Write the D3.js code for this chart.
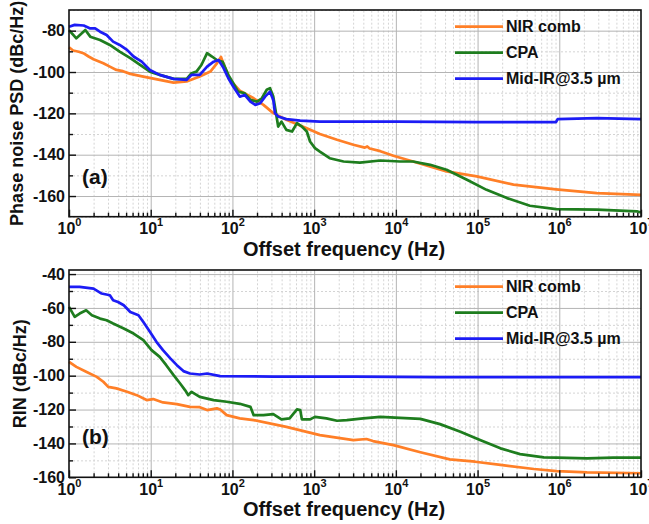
<!DOCTYPE html>
<html>
<head>
<style>
body { margin: 0; background: white; }
svg { display: block; font-family: "Liberation Sans", Arial, sans-serif; font-weight: bold; }
.grid-major line { stroke: #b4b4b4; stroke-width: 1; }
.grid-minor line { stroke: #d4d4d4; stroke-width: 1; stroke-dasharray: 2,2; }
.grid-major path, .grid-minor path { display: none; }
.line { fill: none; stroke-width: 2.7px; stroke-linejoin: round; }
</style>
<script src="https://d3js.org/d3.v7.min.js"></script>
</head>
<body>
<svg width="649" height="524"></svg>
<script>
// x values are log10 of offset frequency (Hz), y values in dBc/Hz
const pnNir = [[0,-88],[0.05,-89.6],[0.12,-90.2],[0.175,-90.9],[0.24,-92.5],[0.3,-93.8],[0.42,-95.8],[0.5,-97.4],[0.58,-99],[0.66,-99.6],[0.75,-100.9],[0.91,-102.2],[1.11,-103.8],[1.28,-105.1],[1.44,-104.6],[1.6,-102.2],[1.73,-99.8],[1.81,-95.8],[1.86,-92.7],[1.91,-98],[1.97,-103.8],[2.09,-109],[2.26,-112.7],[2.38,-115.9],[2.5,-119.9],[2.66,-123.1],[2.91,-127.2],[3.07,-130],[3.28,-132.8],[3.48,-135.2],[3.62,-136.6],[3.65,-136],[3.68,-137],[3.81,-138.3],[3.97,-140.5],[4.21,-143.3],[4.62,-148.1],[4.99,-150.5],[5.44,-154.5],[5.96,-156.8],[6.46,-158.6],[7,-159.4]];
const pnCpa = [[0,-79.7],[0.09,-83.7],[0.2,-79.7],[0.26,-82.9],[0.38,-84.5],[0.5,-86.9],[0.62,-90.1],[0.75,-93.3],[0.87,-96.6],[0.99,-99.8],[1.11,-101.4],[1.28,-103.3],[1.44,-103.3],[1.5,-100.6],[1.56,-99.8],[1.62,-96.6],[1.69,-90.9],[1.75,-92.5],[1.81,-94.2],[1.88,-95],[1.95,-101.4],[2.01,-105.4],[2.07,-109.5],[2.15,-110.3],[2.22,-113.5],[2.3,-114.3],[2.36,-112.7],[2.42,-108.6],[2.46,-107.8],[2.5,-111.9],[2.54,-121.5],[2.56,-126.4],[2.6,-124],[2.66,-128],[2.73,-128.8],[2.79,-124.7],[2.85,-126.4],[2.91,-128.8],[2.95,-133.6],[3.01,-136.8],[3.07,-138.5],[3.19,-141.7],[3.36,-143.3],[3.56,-143.8],[3.81,-142.8],[4.05,-143.3],[4.21,-143.3],[4.42,-144.9],[4.62,-147.3],[4.87,-152.1],[5.11,-157],[5.36,-161],[5.64,-164.7],[5.96,-166.3],[6.46,-166.6],[6.95,-167.4],[7,-168]];
const pnMir = [[0,-78.1],[0.07,-77.2],[0.18,-77.5],[0.26,-78.9],[0.32,-78.9],[0.38,-80.5],[0.46,-82.1],[0.54,-85.3],[0.62,-86.9],[0.71,-89.3],[0.79,-92.5],[0.89,-95],[0.99,-99],[1.11,-101.4],[1.28,-103.3],[1.44,-103.8],[1.5,-101.4],[1.6,-101.4],[1.69,-97.4],[1.77,-95],[1.83,-94.2],[1.89,-98],[1.95,-103],[2.01,-107],[2.09,-111.9],[2.15,-111.1],[2.22,-114.3],[2.28,-115.9],[2.34,-115.1],[2.4,-111.9],[2.46,-109.5],[2.5,-113.5],[2.52,-119.9],[2.56,-121.5],[2.66,-122.8],[2.83,-123.5],[3.07,-124],[4,-124],[5,-124.2],[5.96,-124.2],[5.98,-122.8],[6.46,-122.3],[7,-122.8]];

const rinNir = [[0,-91.8],[0.09,-94.8],[0.21,-97.7],[0.34,-100.7],[0.42,-103.6],[0.48,-106.6],[0.58,-107.5],[0.71,-109.5],[0.83,-111.5],[0.95,-114.4],[1.03,-113.8],[1.15,-115.8],[1.32,-116.8],[1.48,-118.4],[1.6,-118.6],[1.69,-120.3],[1.81,-119.3],[1.85,-120],[1.93,-123.3],[2.09,-125.2],[2.26,-126.2],[2.66,-130.2],[3.07,-135.1],[3.48,-138],[3.64,-137.4],[3.72,-138.6],[3.97,-141],[4.3,-145.2],[4.66,-149.4],[4.97,-150.8],[5.28,-152.7],[5.69,-155.1],[5.97,-156.3],[6.34,-157.1],[7,-157.6]];
const rinCpa = [[0,-59.4],[0.07,-65.3],[0.13,-63.3],[0.21,-61.4],[0.28,-64.3],[0.38,-66.3],[0.46,-67.3],[0.54,-69.2],[0.67,-72.1],[0.79,-75.1],[0.91,-79],[1.01,-84.9],[1.11,-88.9],[1.19,-93.8],[1.28,-99.7],[1.36,-104.6],[1.42,-108.5],[1.46,-111.5],[1.5,-109.5],[1.6,-112.5],[1.77,-114.4],[1.93,-115.4],[2.09,-116.6],[2.22,-118.4],[2.26,-123.3],[2.38,-123.3],[2.5,-122.7],[2.6,-125.8],[2.7,-125.2],[2.79,-119.9],[2.83,-120.3],[2.85,-125.8],[2.95,-125.8],[3.01,-124.3],[3.15,-125.2],[3.28,-126.6],[3.4,-126.2],[3.6,-125.2],[3.81,-124.3],[4.05,-124.9],[4.3,-125.5],[4.54,-128.6],[4.79,-133.1],[5.03,-138],[5.28,-142.9],[5.52,-146.3],[5.81,-148.2],[5.97,-148.4],[6.34,-148.8],[6.66,-148.4],[7,-148.4]];
const rinMir = [[0,-47.6],[0.13,-47.6],[0.3,-48.6],[0.4,-51.5],[0.5,-52.5],[0.54,-55.4],[0.6,-56.5],[0.67,-58.4],[0.75,-62.4],[0.85,-64.3],[0.91,-68.3],[0.99,-74.1],[1.07,-80],[1.15,-84.9],[1.24,-89.8],[1.32,-93.8],[1.4,-97.3],[1.48,-98.7],[1.6,-99.3],[1.69,-98.7],[1.85,-100.3],[2.5,-100.5],[3.5,-100.6],[4.5,-100.8],[5.5,-100.9],[7,-100.9]];

const seriesNames = ['NIR comb', 'CPA', 'Mid-IR@3.5 \u00b5m'];
const seriesColors = ['#ff7f27', '#1e7d1e', '#1c1cf5'];
const decades = [0, 1, 2, 3, 4, 5, 6, 7];

const pnTicks = [-160, -140, -120, -100, -80];
const pnMinor = [-170, -150, -130, -110, -90, -70];
const rinTicks = [-160, -140, -120, -100, -80, -60, -40];
const rinMinor = [-150, -130, -110, -90, -70, -50];

const svg = d3.select('svg');
const left = 69, right = 641;

const majorX = decades.map(e => Math.pow(10, e));
const minorX = [];
decades.slice(0, 7).forEach(e => { for (let k = 2; k <= 9; k++) minorX.push(k * Math.pow(10, e)); });

function panel(cfg) {
  const x = d3.scaleLog().domain([1, 1e7]).range([left, right]);
  const y = d3.scaleLinear().domain(cfg.yDomain).range([cfg.bottom, cfg.top]);
  const h = cfg.bottom - cfg.top;
  const g = svg.append('g');

  // grid
  g.append('g').attr('class', 'grid-minor')
    .attr('transform', `translate(0,${cfg.bottom})`)
    .call(d3.axisBottom(x).tickValues(minorX).tickSize(-h).tickFormat(''));
  g.append('g').attr('class', 'grid-minor')
    .attr('transform', `translate(${left},0)`)
    .call(d3.axisLeft(y).tickValues(cfg.yMinor).tickSize(-(right - left)).tickFormat(''));
  g.append('g').attr('class', 'grid-major')
    .attr('transform', `translate(0,${cfg.bottom})`)
    .call(d3.axisBottom(x).tickValues(majorX.slice(1, 7)).tickSize(-h).tickFormat(''));
  g.append('g').attr('class', 'grid-major')
    .attr('transform', `translate(${left},0)`)
    .call(d3.axisLeft(y).tickValues(cfg.yTicks.filter(v => v !== cfg.yDomain[0])).tickSize(-(right - left)).tickFormat(''));

  // lines
  const line = d3.line().x(d => x(Math.pow(10, d[0]))).y(d => y(d[1]));
  cfg.series.forEach((s, i) => {
    g.append('path').datum(s).attr('class', 'line')
      .attr('stroke', seriesColors[i]).attr('d', line);
  });

  // frame
  g.append('rect').attr('x', left).attr('y', cfg.top)
    .attr('width', right - left).attr('height', h)
    .attr('fill', 'none').attr('stroke', '#111').attr('stroke-width', 1.6);

  // x axis: ticks pointing inward
  g.append('g').attr('transform', `translate(0,${cfg.bottom})`)
    .call(d3.axisBottom(x).tickValues(minorX).tickSizeInner(-4).tickSizeOuter(0).tickFormat(''));
  const xm = g.append('g').attr('transform', `translate(0,${cfg.bottom})`)
    .call(d3.axisBottom(x).tickValues(majorX).tickSizeInner(-7).tickSizeOuter(0).tickPadding(6));
  g.selectAll('.domain').remove();
  g.selectAll('.tick line').attr('stroke', '#111').attr('stroke-width', 1.4);
  xm.selectAll('text').each(function(d) {
    const t = d3.select(this).text('')
      .attr('font-size', 16).attr('font-weight', 'bold').attr('fill', '#111')
      .attr('font-family', '"Liberation Sans", Arial, sans-serif');
    t.append('tspan').text('10');
    t.append('tspan').text(Math.round(Math.log10(d))).attr('font-size', 11).attr('dy', '-0.7em');
  });

  // y axis
  const ya = g.append('g').attr('transform', `translate(${left},0)`)
    .call(d3.axisLeft(y).tickValues(cfg.yTicks).tickSizeInner(-7).tickSizeOuter(0).tickPadding(4)
      .tickFormat(d => d));
  g.append('g').attr('transform', `translate(${left},0)`)
    .call(d3.axisLeft(y).tickValues(cfg.yMinor.filter(v => v > cfg.yDomain[0] && v < cfg.yDomain[1])).tickSizeInner(-4).tickSizeOuter(0).tickFormat(''));
  g.selectAll('.domain').remove();
  g.selectAll('.tick line').attr('stroke', '#111').attr('stroke-width', 1.4);
  ya.selectAll('text').attr('font-size', 16).attr('font-weight', 'bold').attr('fill', '#111')
    .attr('font-family', '"Liberation Sans", Arial, sans-serif').attr('x', -4);

  // titles
  g.append('text').attr('x', 344).attr('y', cfg.bottom + 39)
    .attr('text-anchor', 'middle').attr('font-size', 20).attr('fill', '#111')
    .text('Offset frequency (Hz)');
  g.append('text')
    .attr('transform', `translate(${cfg.titleX},${(cfg.top + cfg.bottom) / 2}) rotate(-90)`)
    .attr('text-anchor', 'middle').attr('font-size', 18).attr('fill', '#111')
    .text(cfg.yTitle);
  g.append('text').attr('x', 82).attr('y', cfg.tagY)
    .attr('font-size', 21).attr('fill', '#111').text(cfg.tag);

  // legend
  seriesNames.forEach((n, i) => {
    const ly = cfg.legendY + i * 26;
    g.append('line').attr('x1', 455).attr('x2', 503).attr('y1', ly).attr('y2', ly)
      .attr('stroke', seriesColors[i]).attr('stroke-width', 2.7);
    g.append('text').attr('x', 506).attr('y', ly).attr('dy', '0.35em')
      .attr('font-size', 16).attr('fill', '#111').text(n);
  });
}

panel({
  top: 10, bottom: 216.7, yDomain: [-170, -70],
  yTicks: pnTicks, yMinor: pnMinor,
  series: [pnNir, pnCpa, pnMir],
  yTitle: 'Phase noise PSD (dBc/Hz)', titleX: 23,
  tag: '(a)', tagY: 184, legendY: 26.7
});
panel({
  top: 270, bottom: 477.3, yDomain: [-160, -37.6],
  yTicks: rinTicks, yMinor: rinMinor,
  series: [rinNir, rinCpa, rinMir],
  yTitle: 'RIN (dBc/Hz)', titleX: 26,
  tag: '(b)', tagY: 444, legendY: 286.7
});
</script>
</body>
</html>
